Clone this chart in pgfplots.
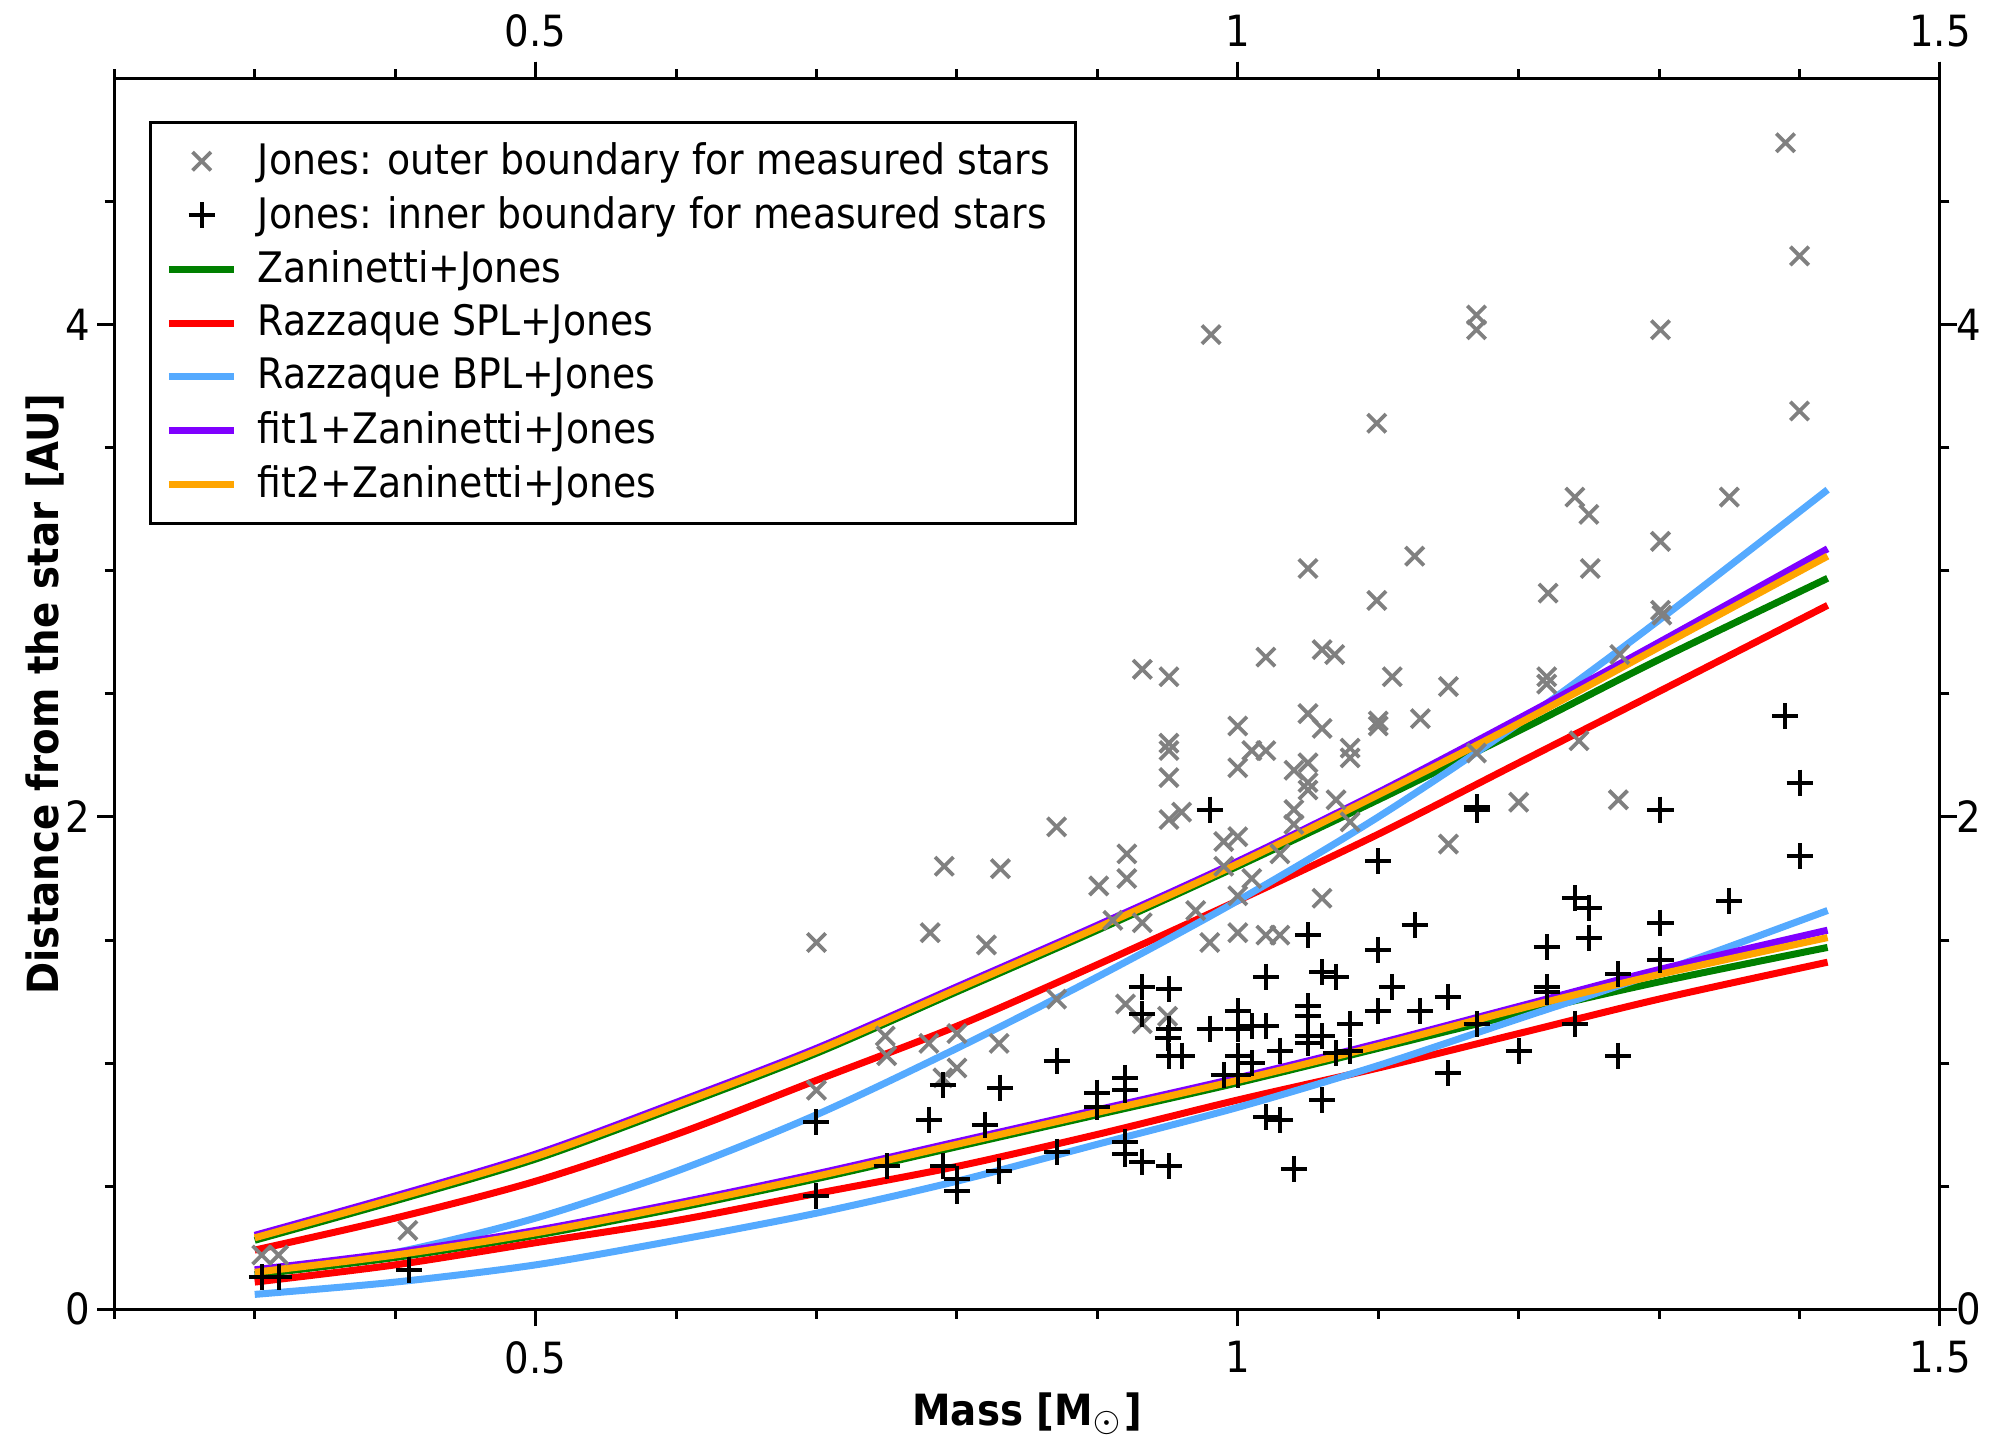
\documentclass[border=0pt]{standalone}
\usepackage{fontspec}
\setmainfont{DejaVu Sans Condensed}
\usepackage{pgfplots}
\pgfplotsset{compat=1.18}

\definecolor{cgreen}{RGB}{0,128,0}
\definecolor{cred}{RGB}{255,0,0}
\definecolor{cblue}{RGB}{85,170,255}
\definecolor{cpurple}{RGB}{127,0,255}
\definecolor{corange}{RGB}{255,165,0}
\definecolor{cgrey}{RGB}{128,128,128}

\pgfplotsset{
  boxax/.style={
    scale only axis, width=365pt, height=246pt,
    xmin=0.2, xmax=1.5, ymin=0, ymax=5,
    xtick={0.5,1,1.5}, minor xtick={0.2,0.3,0.4,0.6,0.7,0.8,0.9,1.1,1.2,1.3,1.4},
    ytick={0,2,4}, minor ytick={0.5,1,1.5,2.5,3,3.5,4.5},
    tick align=outside,
    major tick length=3.4pt, minor tick length=1.9pt,
    tick style={black, line width=0.6pt},
    axis line style={line width=0.6pt},
    /pgf/number format/assume math mode=true,
    ticklabel style={font=\fontsize{8.6}{10}\selectfont},
  },
  curve/.style={line width=1.4pt, smooth},
}

\begin{document}
\fontsize{8.4}{10}\selectfont
\begin{tikzpicture}
\begin{axis}[boxax,
  yticklabel style={xshift=1.5pt},
  xlabel={\bfseries Mass [M$_{\odot}$]},
  ylabel={\bfseries Distance from the star [AU]},
  xlabel style={font=\fontsize{8.6}{10}\selectfont, yshift=2pt},
  ylabel style={font=\fontsize{8.6}{10}\selectfont, yshift=-5.5pt},
  legend cell align=left,
  legend style={at={(rel axis cs:0.019,0.966)}, anchor=north west,
    draw=black, line width=0.6pt, font=\fontsize{8.4}{10}\selectfont,
    row sep=-0.8pt, column sep=2pt, inner xsep=3pt, inner ysep=2pt},
  legend image code/.code={\draw[mark repeat=2,mark phase=2] plot coordinates {(0cm,0cm) (0.23cm,0cm) (0.46cm,0cm)};},
]
% outer boundary (Jones)
\addplot[only marks, mark=x, mark size=2.6pt, cgrey, mark options={line width=0.75pt}] coordinates {
(1.390,4.74) (1.400,4.28) (1.400,3.65) (1.350,3.30) (1.301,3.98) (1.301,3.12) (1.301,2.84) (1.302,2.82)
(1.170,4.04) (1.170,3.98) (0.981,3.96) (1.099,3.60) (1.240,3.30) (1.250,3.23) (1.251,3.01) (1.221,2.91)
(1.126,3.06) (1.099,2.88) (1.050,3.01) (1.110,2.57) (1.020,2.65) (1.060,2.68) (1.069,2.66) (1.150,2.53)
(1.220,2.57) (1.220,2.54) (1.272,2.66) (1.243,2.31) (1.271,2.07) (1.200,2.06) (1.170,2.26) (1.150,1.89)
(0.932,2.60) (0.951,2.57) (0.951,2.30) (0.951,2.27) (0.951,2.16) (0.951,1.99) (0.960,2.02) (1.000,2.37)
(1.020,2.27) (1.000,2.20) (1.050,2.42) (1.050,2.22) (1.050,2.14) (1.050,2.11) (1.040,2.19) (1.060,2.36)
(1.080,2.28) (1.080,2.24) (1.100,2.39) (1.100,2.37) (1.130,2.40) (1.070,2.07) (1.040,2.03) (1.010,2.27)
(0.990,1.90) (1.000,1.92) (1.010,1.75) (1.000,1.68) (0.980,1.49) (1.000,1.53) (1.020,1.52) (1.030,1.52)
(1.060,1.67) (1.080,1.98) (0.871,1.96) (0.901,1.72) (0.921,1.85) (0.921,1.75) (0.932,1.57) (0.911,1.58)
(0.791,1.80) (0.831,1.79) (0.781,1.53) (0.821,1.48) (0.700,1.49) (0.749,1.11) (0.750,1.03) (0.780,1.08)
(0.800,1.12) (0.800,0.98) (0.790,0.94) (0.830,1.08) (0.871,1.26) (0.920,1.24) (0.932,1.16) (0.700,0.89)
(0.950,1.19) (0.990,1.80) (1.030,1.85) (1.040,1.97) (0.970,1.62) (0.409,0.32) (0.305,0.22) (0.317,0.22)
};
\addlegendentry{Jones: outer boundary for measured stars}
% inner boundary (Jones)
\addplot[only marks, mark=+, mark size=2.6pt, black, mark options={line width=0.8pt}] coordinates {
(1.390,2.41) (1.400,2.14) (1.400,1.84) (1.350,1.66) (1.301,2.03) (1.301,1.57) (1.301,1.42) (1.170,2.04)
(1.170,2.03) (1.240,1.67) (1.250,1.63) (1.250,1.51) (1.220,1.47) (1.220,1.31) (1.220,1.29) (1.271,1.36)
(1.240,1.16) (1.200,1.05) (1.271,1.03) (1.170,1.16) (1.150,1.27) (1.150,0.96) (1.126,1.56) (1.100,1.82)
(1.100,1.46) (1.110,1.31) (1.100,1.21) (1.130,1.21) (1.050,1.52) (1.060,1.37) (1.070,1.35) (1.050,1.23)
(1.050,1.19) (1.050,1.11) (1.050,1.08) (1.060,1.11) (1.080,1.16) (1.080,1.05) (1.070,1.04) (1.060,0.85)
(1.020,1.35) (1.020,1.15) (1.010,1.15) (1.000,1.21) (1.000,1.14) (1.030,1.05) (1.000,1.03) (0.990,0.95)
(1.000,0.95) (1.010,1.00) (1.020,0.78) (1.030,0.77) (1.040,0.57) (0.980,2.03) (0.980,1.14) (0.951,1.30)
(0.951,1.14) (0.951,1.03) (0.960,1.03) (0.932,1.31) (0.932,1.20) (0.950,1.10) (0.900,0.88) (0.900,0.82)
(0.920,0.94) (0.920,0.89) (0.920,0.68) (0.932,0.60) (0.951,0.58) (0.920,0.63) (0.871,1.01) (0.831,0.90)
(0.790,0.91) (0.820,0.75) (0.780,0.77) (0.830,0.56) (0.800,0.48) (0.800,0.53) (0.790,0.58) (0.750,0.58)
(0.700,0.76) (0.700,0.46) (0.871,0.64) (0.410,0.16) (0.305,0.13) (0.317,0.13)
};
\addlegendentry{Jones: inner boundary for measured stars}
% outer curves
\addplot[curve, cgreen] coordinates {(0.3,0.28)(0.4,0.44)(0.5,0.61)(0.6,0.82)(0.7,1.04)(0.8,1.29)(0.9,1.54)(1.0,1.80)(1.1,2.07)(1.2,2.35)(1.3,2.64)(1.42,2.97)};
\addlegendentry{Zaninetti+Jones}
\addplot[curve, cred] coordinates {(0.3,0.24)(0.4,0.37)(0.5,0.52)(0.6,0.71)(0.7,0.93)(0.8,1.15)(0.9,1.40)(1.0,1.66)(1.1,1.93)(1.2,2.22)(1.3,2.51)(1.42,2.86)};
\addlegendentry{Razzaque SPL+Jones}
\addplot[curve, cblue] coordinates {(0.3,0.14)(0.4,0.23)(0.5,0.37)(0.6,0.56)(0.7,0.79)(0.8,1.06)(0.9,1.35)(1.0,1.66)(1.1,2.00)(1.2,2.38)(1.3,2.80)(1.42,3.33)};
\addlegendentry{Razzaque BPL+Jones}
\addplot[curve, cpurple] coordinates {(0.3,0.30)(0.4,0.46)(0.5,0.63)(0.6,0.84)(0.7,1.06)(0.8,1.31)(0.9,1.56)(1.0,1.82)(1.1,2.10)(1.2,2.40)(1.3,2.71)(1.42,3.09)};
\addlegendentry{fit1+Zaninetti+Jones}
\addplot[curve, corange] coordinates {(0.3,0.29)(0.4,0.45)(0.5,0.62)(0.6,0.83)(0.7,1.05)(0.8,1.30)(0.9,1.55)(1.0,1.81)(1.1,2.09)(1.2,2.38)(1.3,2.69)(1.42,3.06)};
\addlegendentry{fit2+Zaninetti+Jones}
% inner curves
\addplot[curve, cgreen, forget plot] coordinates {(0.3,0.14)(0.4,0.21)(0.5,0.30)(0.6,0.41)(0.7,0.53)(0.8,0.66)(0.9,0.79)(1.0,0.92)(1.1,1.06)(1.2,1.20)(1.3,1.33)(1.42,1.47)};
\addplot[curve, cred, forget plot] coordinates {(0.3,0.11)(0.4,0.18)(0.5,0.27)(0.6,0.36)(0.7,0.47)(0.8,0.58)(0.9,0.71)(1.0,0.85)(1.1,0.98)(1.2,1.12)(1.3,1.26)(1.42,1.41)};
\addplot[curve, cblue, forget plot] coordinates {(0.3,0.06)(0.4,0.11)(0.5,0.18)(0.6,0.28)(0.7,0.39)(0.8,0.52)(0.9,0.67)(1.0,0.82)(1.1,0.99)(1.2,1.18)(1.3,1.37)(1.42,1.62)};
\addplot[curve, cpurple, forget plot] coordinates {(0.3,0.16)(0.4,0.23)(0.5,0.32)(0.6,0.43)(0.7,0.55)(0.8,0.68)(0.9,0.81)(1.0,0.94)(1.1,1.08)(1.2,1.23)(1.3,1.38)(1.42,1.54)};
\addplot[curve, corange, forget plot] coordinates {(0.3,0.15)(0.4,0.22)(0.5,0.31)(0.6,0.42)(0.7,0.54)(0.8,0.67)(0.9,0.80)(1.0,0.93)(1.1,1.07)(1.2,1.22)(1.3,1.36)(1.42,1.51)};
\coordinate (bbl) at (rel axis cs:-0.0626,-0.1043);
\coordinate (btr) at (rel axis cs:1.0285,1.064);
\end{axis}
% second box for the top and right tick labels
\begin{axis}[boxax, xticklabel pos=right, yticklabel pos=right, yticklabel style={xshift=-3pt}]
\end{axis}
\pgfresetboundingbox
\path (bbl) rectangle (btr);
\end{tikzpicture}
\end{document}
